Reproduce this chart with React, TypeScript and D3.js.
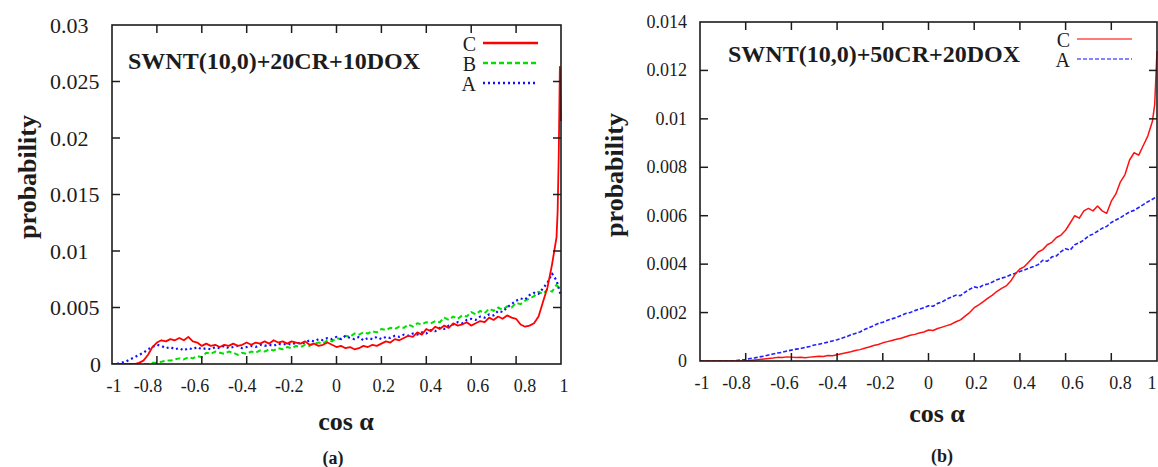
import * as d3 from "d3";

// cos(alpha) bins, step 0.02
const bins = d3.range(101).map((i) => +(-1 + i * 0.02).toFixed(2));

const xTicks = [-1, -0.8, -0.6, -0.4, -0.2, 0, 0.2, 0.4, 0.6, 0.8, 1];
const yTicksA = [0, 0.005, 0.01, 0.015, 0.02, 0.025, 0.03];
const yTicksB = [0, 0.002, 0.004, 0.006, 0.008, 0.01, 0.012, 0.014];

// panel (a): SWNT(10,0)+20CR+10DOX
const cA = [
  0, 0, 0, 0, 0, 0, 0.0001, 0.0003, 0.0008, 0.0015,
  0.0019, 0.0021, 0.002, 0.0022, 0.0021, 0.0023, 0.0021, 0.0024, 0.002, 0.0019,
  0.0016, 0.0018, 0.0016, 0.0017, 0.0015, 0.0017, 0.0016, 0.0018, 0.0016, 0.0017,
  0.0019, 0.0017, 0.0019, 0.0018, 0.002, 0.0018, 0.0021, 0.0019, 0.002, 0.0018,
  0.002, 0.0019, 0.0018, 0.002, 0.0017, 0.0018, 0.0016, 0.0017, 0.0019, 0.0017,
  0.0015, 0.0016, 0.0014, 0.0015, 0.0013, 0.0014, 0.0016, 0.0015, 0.0017, 0.0016,
  0.0018, 0.002, 0.0019, 0.0022, 0.0021, 0.0023, 0.0025, 0.0024, 0.0028, 0.0026,
  0.0031, 0.0029, 0.0033, 0.0031, 0.0034, 0.0032, 0.0036, 0.0034, 0.0035, 0.0037,
  0.0034, 0.0036, 0.0038, 0.0037, 0.0041, 0.0039, 0.0042, 0.004, 0.0043, 0.0041,
  0.004, 0.0035, 0.0033, 0.0034, 0.0036, 0.0042, 0.0055, 0.0068, 0.0088, 0.0112,
];
const cATail: [number, number][] = [
  [0.985, 0.0135], [0.99, 0.0185], [0.995, 0.0263], [1, 0.0215],
];
const bA = [
  0, 0, 0, 0, 0, 0, 0, 0, 0, 0.0001,
  0.0001, 0.0002, 0.0003, 0.0003, 0.0004, 0.0005, 0.0004, 0.0006, 0.0005, 0.0007,
  0.0006, 0.001, 0.0009, 0.0011, 0.001, 0.0009, 0.0011, 0.001, 0.0008, 0.001,
  0.0009, 0.0011, 0.001, 0.0012, 0.0011, 0.0013, 0.0012, 0.0014, 0.0013, 0.0015,
  0.0014, 0.0016, 0.0015, 0.0017, 0.0016, 0.0018, 0.0019, 0.0018, 0.0021, 0.002,
  0.0023, 0.0022, 0.0025, 0.0024, 0.0027, 0.0026, 0.0028, 0.0027, 0.0029, 0.0028,
  0.0031, 0.003, 0.0032, 0.0031, 0.0033, 0.0032, 0.0035, 0.0033, 0.0036, 0.0035,
  0.0037, 0.0036, 0.0038, 0.0037, 0.0041, 0.0039, 0.0042, 0.004, 0.0043, 0.0042,
  0.0046, 0.0044, 0.0047, 0.0045, 0.0049, 0.0047, 0.005, 0.0048, 0.0051, 0.005,
  0.0054, 0.0053, 0.0056, 0.0058, 0.006, 0.0064, 0.0062, 0.0066, 0.0064, 0.007,
  0.0066,
];
const aA = [
  0, 0, 0.0001, 0.0002, 0.0004, 0.0006, 0.0008, 0.001, 0.0013, 0.0015,
  0.0017, 0.0016, 0.0014, 0.0015, 0.0013, 0.0014, 0.0012, 0.0014, 0.0013, 0.0015,
  0.0013, 0.0014, 0.0013, 0.0015, 0.0014, 0.0016, 0.0014, 0.0015, 0.0016, 0.0014,
  0.0015, 0.0016, 0.0015, 0.0017, 0.0016, 0.0017, 0.0016, 0.0018, 0.0017, 0.0018,
  0.0017, 0.0019, 0.0018, 0.0019, 0.0021, 0.002, 0.0022, 0.0021, 0.0023, 0.0022,
  0.0024, 0.0022, 0.0025, 0.0023, 0.0022, 0.0024, 0.0021, 0.0023, 0.0022, 0.0024,
  0.0022, 0.0024, 0.0023, 0.0025, 0.0024, 0.0026, 0.0025, 0.0027, 0.0026, 0.0028,
  0.0027, 0.003, 0.0029, 0.0032, 0.0031, 0.0034, 0.0035, 0.0037, 0.0036, 0.0039,
  0.004, 0.0039, 0.0042, 0.0041, 0.0044, 0.0043, 0.0047, 0.0046, 0.005, 0.0053,
  0.0056, 0.0058, 0.0057, 0.0061, 0.0063, 0.0062, 0.0067, 0.0072, 0.008, 0.0074,
  0.006,
];

// panel (b): SWNT(10,0)+50CR+20DOX
const cB = [
  0, 0, 0, 0, 0, 0, 0, 0, 0, 0,
  0, 0.00002, 0.00004, 0.00006, 0.00008, 0.0001, 0.00012, 0.00015, 0.00014, 0.00017,
  0.00016, 0.00014, 0.00015, 0.00013, 0.00016, 0.00018, 0.0002, 0.00019, 0.00023, 0.00022,
  0.00026, 0.0003, 0.00034, 0.00038, 0.00043, 0.00047, 0.00053, 0.00058, 0.00064, 0.00068,
  0.00075, 0.0008, 0.00085, 0.0009, 0.00094, 0.001, 0.00106, 0.0011, 0.00116, 0.0012,
  0.00128, 0.00126, 0.00134, 0.0014, 0.00146, 0.00152, 0.00162, 0.0017, 0.00185, 0.002,
  0.0022, 0.00232, 0.00245, 0.0026, 0.00272, 0.00288, 0.003, 0.0031, 0.0033, 0.0036,
  0.0038, 0.0039, 0.0041, 0.0043, 0.0045, 0.0046, 0.0048, 0.0049, 0.0051, 0.0052,
  0.0054, 0.0057, 0.006, 0.0059, 0.0062, 0.0063, 0.0062, 0.0064, 0.0062, 0.0061,
  0.0066, 0.0069, 0.0074, 0.0077, 0.0083, 0.0086, 0.0085, 0.0089, 0.0093, 0.0099,
];
const cBTail: [number, number][] = [[0.99, 0.0106], [1, 0.0128]];
const aB = [
  0, 0, 0, 0, 0, 0, 0, 0, 0.00002, 0.00004,
  0.00006, 0.0001, 0.00013, 0.00017, 0.0002, 0.00025, 0.00029, 0.00033, 0.00036, 0.00041,
  0.00045, 0.00049, 0.00051, 0.00056, 0.0006, 0.00066, 0.00069, 0.00074, 0.00078, 0.00083,
  0.00088, 0.00094, 0.001, 0.00108, 0.00114, 0.0012, 0.0013, 0.00138, 0.00146, 0.00155,
  0.0016, 0.00168, 0.00174, 0.0018, 0.00188, 0.00196, 0.002, 0.00208, 0.00214, 0.0022,
  0.00228, 0.00226, 0.00238, 0.00244, 0.00256, 0.00264, 0.00272, 0.0027, 0.00284, 0.00296,
  0.00306, 0.00302, 0.00314, 0.00318, 0.00326, 0.00336, 0.00342, 0.00348, 0.00356, 0.00362,
  0.0037, 0.00376, 0.00384, 0.0039, 0.00398, 0.00416, 0.00412, 0.0043, 0.00434, 0.00452,
  0.00464, 0.00458, 0.0048, 0.00488, 0.005, 0.00516, 0.00524, 0.00536, 0.00548, 0.00556,
  0.00572, 0.00582, 0.00592, 0.00604, 0.00616, 0.00622, 0.00634, 0.00646, 0.00658, 0.00668,
  0.0068,
];

const toPts = (vals: number[], tail: [number, number][] = []) =>
  vals.map((v, i) => [bins[i], v] as [number, number]).concat(tail);

type Series = {
  key: string;
  color: string;
  dash?: string;
  width: number;
  legendOpacity?: number;
  pts: [number, number][];
};

type PanelProps = {
  left: number;
  right: number;
  top: number;
  bottom: number;
  yMax: number;
  yTicks: number[];
  yFont: number;
  yLabelX: (v: number) => { x: number; anchor: string };
  title: string;
  titleX: number;
  titleY: number;
  series: Series[];
  legend: Series[];
  legendX: number;
  legendY0: number;
  legendStep: number;
  ylabX: number;
  ylabY: number;
  xlabX: number;
  xlabY: number;
  tag: string;
  tagX: number;
  tagY: number;
};

const FONT = "'Liberation Serif', 'DejaVu Serif', serif";
const INK = "#1c1c1c";

const Panel = (p: PanelProps) => {
  const x = d3.scaleLinear().domain([-1, 1]).range([p.left, p.right]);
  const y = d3.scaleLinear().domain([0, p.yMax]).range([p.bottom, p.top]);
  const line = d3
    .line<[number, number]>()
    .x((d) => x(d[0]))
    .y((d) => y(d[1]));
  const cx = x(0);
  const tick = 8;

  return (
    <g>
      <defs>
        <clipPath id={`clip-${p.tag}`}>
          <rect x={p.left} y={p.top - 2} width={p.right - p.left + 2} height={p.bottom - p.top + 2} />
        </clipPath>
      </defs>
      <g clipPath={`url(#clip-${p.tag})`}>
        {p.series.map((s) => (
          <path
            key={s.key}
            d={line(s.pts) ?? ""}
            fill="none"
            stroke={s.color}
            strokeWidth={s.width}
            strokeDasharray={s.dash}
            strokeLinejoin="round"
          />
        ))}
      </g>
      {/* ticks, mirrored like gnuplot */}
      {xTicks.slice(1, -1).map((t) => (
        <g key={"xt" + t} stroke={INK} strokeWidth={1.5}>
          <line x1={x(t)} x2={x(t)} y1={p.bottom} y2={p.bottom - tick} />
          <line x1={x(t)} x2={x(t)} y1={p.top} y2={p.top + tick} />
        </g>
      ))}
      {p.yTicks.slice(1, -1).map((t) => (
        <g key={"yt" + t} stroke={INK} strokeWidth={1.5}>
          <line x1={p.left} x2={p.left + tick} y1={y(t)} y2={y(t)} />
          <line x1={p.right} x2={p.right - tick} y1={y(t)} y2={y(t)} />
        </g>
      ))}
      <rect
        x={p.left}
        y={p.top}
        width={p.right - p.left}
        height={p.bottom - p.top}
        fill="none"
        stroke={INK}
        strokeWidth={1.6}
      />
      {/* tick labels */}
      {xTicks.map((t) => {
        const raw = Math.abs(t) === 1 ? x(t) + (t < 0 ? 2 : 3) : cx + (x(t) - cx) * 1.05;
        const px = Math.min(raw, 1152);
        return (
          <text
            key={"xl" + t}
            x={px}
            y={p.bottom + 22}
            textAnchor="middle"
            dominantBaseline="central"
            fontFamily={FONT}
            fontSize={18}
            fill={INK}
          >
            {String(t)}
          </text>
        );
      })}
      {p.yTicks.map((t) => {
        const l = p.yLabelX(t);
        return (
          <text
            key={"yl" + t}
            x={l.x}
            y={y(t)}
            textAnchor={l.anchor}
            dominantBaseline="central"
            fontFamily={FONT}
            fontSize={p.yFont}
            fill={INK}
          >
            {String(t)}
          </text>
        );
      })}
      {/* inset title */}
      <text x={p.titleX} y={p.titleY} fontFamily={FONT} fontWeight="bold" fontSize={24} fill={INK}>
        {p.title}
      </text>
      {/* legend */}
      {p.legend.map((s, i) => {
        const ly = p.legendY0 + i * p.legendStep;
        return (
          <g key={"lg" + s.key}>
            <text
              x={p.legendX}
              y={ly + 1}
              textAnchor="end"
              dominantBaseline="central"
              fontFamily={FONT}
              fontSize={20}
              fill={INK}
            >
              {s.key}
            </text>
            <line
              x1={p.legendX + 7}
              x2={p.legendX + 62}
              y1={ly}
              y2={ly}
              stroke={s.color}
              strokeWidth={s.width + 0.5}
              strokeDasharray={s.dash}
              opacity={s.legendOpacity ?? 1}
            />
          </g>
        );
      })}
      {/* axis titles */}
      <text
        transform={`translate(${p.ylabX},${p.ylabY}) rotate(-90)`}
        textAnchor="middle"
        dominantBaseline="central"
        fontFamily={FONT}
        fontWeight="bold"
        fontSize={26}
        fill={INK}
      >
        probability
      </text>
      <text
        x={p.xlabX}
        y={p.xlabY}
        textAnchor="middle"
        dominantBaseline="central"
        fontFamily={FONT}
        fontWeight="bold"
        fontSize={26}
        fill={INK}
      >
        cos α
      </text>
      <text
        x={p.tagX}
        y={p.tagY}
        textAnchor="middle"
        dominantBaseline="central"
        fontFamily={FONT}
        fontWeight="bold"
        fontSize={18}
        fill={INK}
      >
        ({p.tag})
      </text>
    </g>
  );
};

export default function App() {
  const seriesA: Series[] = [
    { key: "B", color: "#00e000", dash: "5,3", width: 2, pts: toPts(bA) },
    { key: "A", color: "#1010ff", dash: "2,3", width: 2.2, pts: toPts(aA) },
    { key: "C", color: "#ff0000", width: 1.8, pts: toPts(cA, cATail) },
  ];
  const seriesB: Series[] = [
    { key: "A", color: "#2020ff", dash: "4,2", width: 1.6, legendOpacity: 0.55, pts: toPts(aB) },
    { key: "C", color: "#ff1010", width: 1.5, legendOpacity: 0.55, pts: toPts(cB, cBTail) },
  ];
  const legendA = ["C", "B", "A"].map((k) => seriesA.find((s) => s.key === k)!);
  const legendB = ["C", "A"].map((k) => seriesB.find((s) => s.key === k)!);

  return (
    <svg
      width={1158}
      height={467}
      style={{ position: "absolute", left: 0, top: 0, background: "#fff" }}
    >
      <Panel
        left={112}
        right={561}
        top={25}
        bottom={364}
        yMax={0.03}
        yTicks={yTicksA}
        yFont={22}
        yLabelX={(v) => (v === 0 ? { x: 101, anchor: "end" } : { x: 50, anchor: "start" })}
        title="SWNT(10,0)+20CR+10DOX"
        titleX={128}
        titleY={69}
        series={seriesA}
        legend={legendA}
        legendX={476}
        legendY0={43}
        legendStep={20}
        ylabX={27}
        ylabY={177}
        xlabX={346}
        xlabY={421}
        tag="a"
        tagX={333}
        tagY={458}
      />
      <Panel
        left={700}
        right={1157}
        top={22}
        bottom={361}
        yMax={0.014}
        yTicks={yTicksB}
        yFont={18}
        yLabelX={() => ({ x: 687, anchor: "end" })}
        title="SWNT(10,0)+50CR+20DOX"
        titleX={728}
        titleY={62}
        series={seriesB}
        legend={legendB}
        legendX={1070}
        legendY0={39}
        legendStep={20}
        ylabX={614}
        ylabY={175}
        xlabX={937}
        xlabY={413}
        tag="b"
        tagX={942}
        tagY={456}
      />
    </svg>
  );
}
